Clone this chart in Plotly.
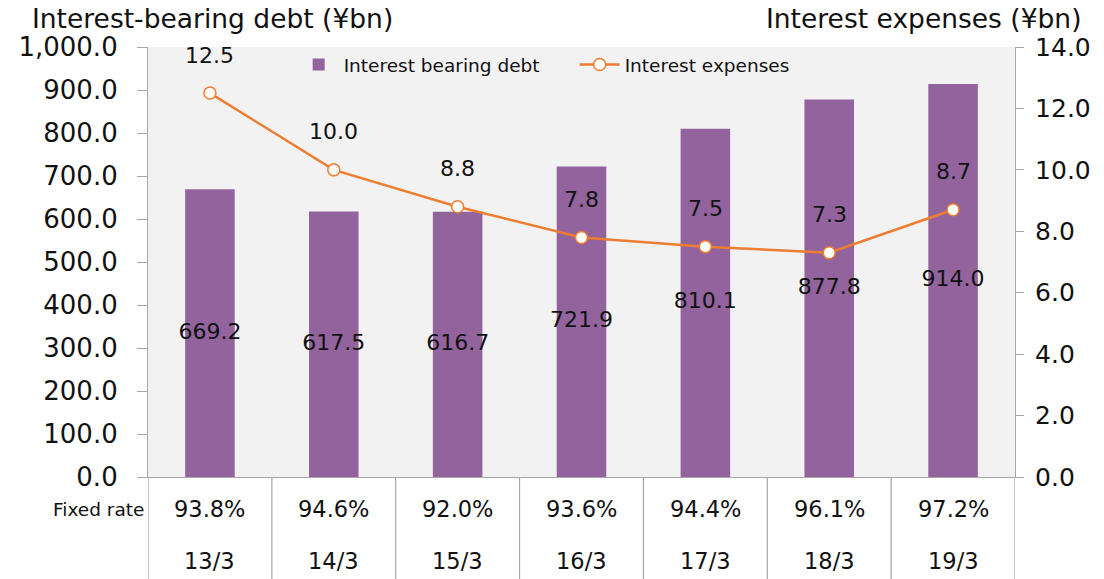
import plotly.graph_objects as go

# Fiscal year-ends (year/month)
periods = ["13/3", "14/3", "15/3", "16/3", "17/3", "18/3", "19/3"]
# Interest-bearing debt, ¥bn (left axis)
debt = [669.2, 617.5, 616.7, 721.9, 810.1, 877.8, 914.0]
# Interest expenses, ¥bn (right axis)
interest = [12.5, 10.0, 8.8, 7.8, 7.5, 7.3, 8.7]
# Share of debt at fixed rates, %
fixed_rate = [93.8, 94.6, 92.0, 93.6, 94.4, 96.1, 97.2]

left_ticks = [i * 100 for i in range(11)]
right_ticks = [i * 2 for i in range(8)]

FONT = "DejaVu Sans"
BAR_COLOR = "#93639e"
LINE_COLOR = "#ed7d31"
GRID_COLOR = "#a6a6a6"
TXT = "#111111"

x = list(range(len(periods)))

fig = go.Figure()

fig.add_trace(go.Bar(
    x=x, y=debt, name="Interest bearing debt",
    marker=dict(color=BAR_COLOR, line=dict(width=0)),
    yaxis="y",
))

# Debt values centred in each bar
fig.add_trace(go.Scatter(
    x=x, y=[v / 2 for v in debt], mode="text",
    text=[f"{v:.1f}" for v in debt],
    textfont=dict(family=FONT, size=22, color=TXT),
    showlegend=False, hoverinfo="skip", yaxis="y",
))

fig.add_trace(go.Scatter(
    x=x, y=interest, name="Interest expenses", mode="lines+markers",
    line=dict(color=LINE_COLOR, width=2.5),
    marker=dict(size=12, color="white", line=dict(color=LINE_COLOR, width=1.5)),
    yaxis="y2",
))

annotations = []
# Interest expense labels above each marker
for xi, v in zip(x, interest):
    annotations.append(dict(
        x=xi, y=v, xref="x", yref="y2", text=f"{v:.1f}", showarrow=False,
        yshift=38, font=dict(family=FONT, size=22, color=TXT),
    ))

# Table under the axis: fixed-rate share and period
annotations.append(dict(
    x=0, y=0, xref="paper", yref="paper", text="Fixed rate", showarrow=False,
    xanchor="right", yanchor="middle", xshift=-2, yshift=-32,
    font=dict(family=FONT, size=18.5, color=TXT),
))
for xi, fr, p in zip(x, fixed_rate, periods):
    annotations.append(dict(
        x=xi, y=0, xref="x", yref="paper", text=f"{fr:.1f}%", showarrow=False,
        yanchor="middle", yshift=-32, font=dict(family=FONT, size=22.5, color=TXT),
    ))
    annotations.append(dict(
        x=xi, y=0, xref="x", yref="paper", text=p, showarrow=False,
        yanchor="middle", yshift=-84, font=dict(family=FONT, size=22.5, color=TXT),
    ))

# Axis titles
annotations.append(dict(
    x=0, y=1, xref="paper", yref="paper", text="Interest-bearing debt (¥bn)",
    showarrow=False, xanchor="left", yanchor="middle", xshift=-118, yshift=29,
    font=dict(family=FONT, size=26.5, color=TXT),
))
annotations.append(dict(
    x=1, y=1, xref="paper", yref="paper", text="Interest expenses (¥bn)",
    showarrow=False, xanchor="right", yanchor="middle", xshift=68, yshift=29,
    font=dict(family=FONT, size=26.5, color=TXT),
))

# Vertical separators of the table
shapes = []
for b in range(len(periods) + 1):
    shapes.append(dict(
        type="line", xref="x", yref="paper", x0=b - 0.5, x1=b - 0.5,
        y0=0, y1=-0.26, line=dict(color=GRID_COLOR, width=1.2),
    ))

fig.update_layout(
    width=1104, height=579,
    margin=dict(l=148, r=89, t=47, b=102),
    paper_bgcolor="white", plot_bgcolor="#f2f2f2",
    bargap=0.6,
    font=dict(family=FONT, color=TXT),
    xaxis=dict(
        range=[-0.5, len(periods) - 0.5], showticklabels=False, ticks="",
        showgrid=False, zeroline=False, showline=True, linecolor=GRID_COLOR,
        linewidth=1.2,
    ),
    yaxis=dict(
        range=[0, 1000], tickvals=left_ticks,
        ticktext=[f"{v:,.1f}" for v in left_ticks],
        ticks="outside", ticklen=10, tickcolor=GRID_COLOR, tickwidth=1.2,
        showline=True, linecolor=GRID_COLOR, linewidth=1.2,
        showgrid=False, zeroline=False, ticklabelstandoff=14,
        tickfont=dict(family=FONT, size=26, color=TXT),
    ),
    yaxis2=dict(
        range=[0, 14], tickvals=right_ticks,
        ticktext=[f"{v:.1f}" for v in right_ticks],
        overlaying="y", side="right",
        ticks="outside", ticklen=8, tickcolor=GRID_COLOR, tickwidth=1.2,
        showline=True, linecolor=GRID_COLOR, linewidth=1.2,
        showgrid=False, zeroline=False, ticklabelstandoff=6,
        tickfont=dict(family=FONT, size=25, color=TXT),
    ),
    legend=dict(
        orientation="h", x=0.168, y=0.958, xanchor="left", yanchor="middle",
        bgcolor="rgba(0,0,0,0)", font=dict(family=FONT, size=18.5, color=TXT),
        itemwidth=40, entrywidthmode="pixels", entrywidth=226,
    ),
    annotations=annotations,
    shapes=shapes,
)

fig.write_html("out.html")
